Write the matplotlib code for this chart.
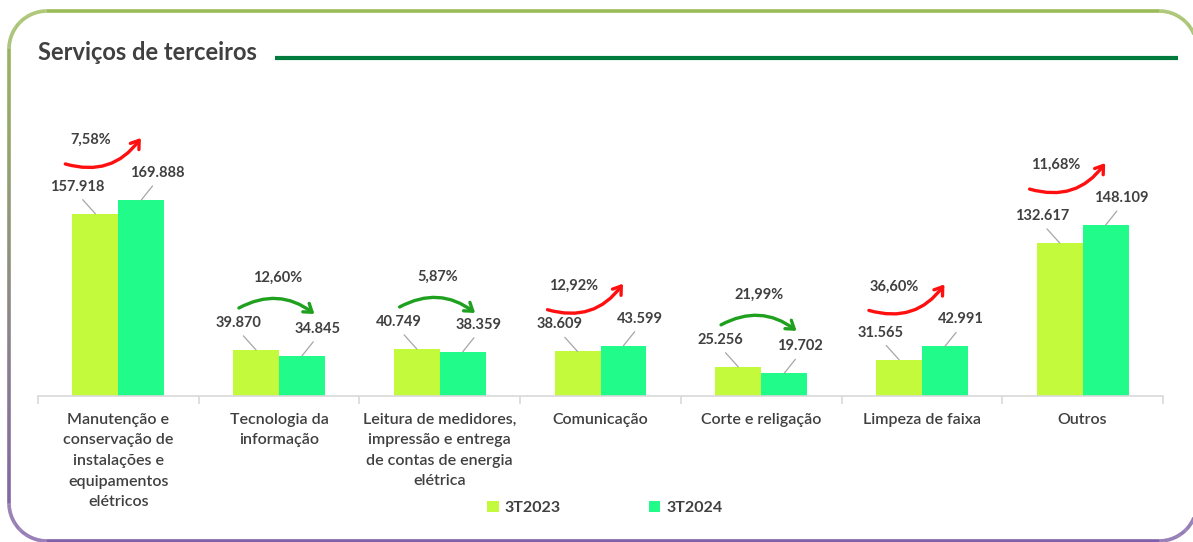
import matplotlib
matplotlib.use("Agg")
import matplotlib.pyplot as plt
import numpy as np
from matplotlib.collections import LineCollection

# ---------------- data ----------------
categories = [
    "Manutenção e\nconservação de\ninstalações e\nequipamentos\nelétricos",
    "Tecnologia da\ninformação",
    "Leitura de medidores,\nimpressão e entrega\nde contas de energia\nelétrica",
    "Comunicação",
    "Corte e religação",
    "Limpeza de faixa",
    "Outros",
]
series_names = ["3T2023", "3T2024"]
values_2023 = [157.918, 39.870, 40.749, 38.609, 25.256, 31.565, 132.617]
values_2024 = [169.888, 34.845, 38.359, 43.599, 19.702, 42.991, 148.109]
labels_2023 = ["157.918", "39.870", "40.749", "38.609", "25.256", "31.565", "132.617"]
labels_2024 = ["169.888", "34.845", "38.359", "43.599", "19.702", "42.991", "148.109"]
pct_labels = ["7,58%", "12,60%", "5,87%", "12,92%", "21,99%", "36,60%", "11,68%"]

# ---------------- style ----------------
W, H = 1193, 542
FONT = ["Lato", "DejaVu Sans"]
TXT = "#404040"
C23 = "#C3FA3C"
C24 = "#20FB8A"
RED = "#FF1010"
GRN = "#1FA01F"

plt.rcParams["font.family"] = FONT

fig = plt.figure(figsize=(W / 100, H / 100), dpi=100)
fig.patch.set_facecolor("white")

# overlay for border / title
ov = fig.add_axes([0, 0, 1, 1])
ov.set_xlim(0, W)
ov.set_ylim(H, 0)
ov.axis("off")

# rounded border with green->purple gradient
x0, x1, y0, y1, r = 9, 1197, 11, 541, 38
pts = []
def arc(cx, cy, a0, a1, n=40):
    t = np.linspace(np.radians(a0), np.radians(a1), n)
    return list(zip(cx + r * np.cos(t), cy + r * np.sin(t)))
pts += [(x0 + r, y0), (x1 - r, y0)]
pts += arc(x1 - r, y0 + r, -90, 0)
pts += [(x1, y1 - r)]
pts += arc(x1 - r, y1 - r, 0, 90)
pts += [(x0 + r, y1)]
pts += arc(x0 + r, y1 - r, 90, 180)
pts += [(x0, y0 + r)]
pts += arc(x0 + r, y0 + r, 180, 270)
dense = []
for (ax_, ay_), (bx_, by_) in zip(pts[:-1], pts[1:]):
    n = max(2, int(np.hypot(bx_ - ax_, by_ - ay_) / 3))
    for t in np.linspace(0, 1, n, endpoint=False):
        dense.append((ax_ + (bx_ - ax_) * t, ay_ + (by_ - ay_) * t))
dense.append(pts[-1])
dense = np.array(dense)
segs = np.stack([dense[:-1], dense[1:]], axis=1)
top_c = np.array([155, 187, 89]) / 255
bot_c = np.array([128, 96, 168]) / 255
ymid = segs[:, :, 1].mean(axis=1)
f = np.clip((ymid - y0) / (y1 - y0), 0, 1)[:, None]
cols = top_c * (1 - f) + bot_c * f
ov.add_collection(LineCollection(segs, colors=cols, linewidths=2.6))

# title and rule
ov.text(38, 52, "Serviços de terceiros", fontsize=17, fontweight="bold",
        color=TXT, ha="left", va="center")
ov.plot([275, 1178], [58, 58], color="#007A3D", lw=3, solid_capstyle="butt")

# ---------------- chart ----------------
ax = fig.add_axes([38 / W, (H - 396) / H, 1125 / W, 296 / H])
ax.patch.set_alpha(0)
n = len(categories)
xs = np.arange(n)
bw = 0.286
ax.bar(xs - bw / 2, values_2023, bw, color=C23, label=series_names[0], zorder=2)
ax.bar(xs + bw / 2, values_2024, bw, color=C24, label=series_names[1], zorder=2)
ax.set_xlim(-0.5, n - 0.5)
ax.set_ylim(0, 296 / 1.154)

for s in ["top", "right", "left"]:
    ax.spines[s].set_visible(False)
ax.spines["bottom"].set_color("#D9D9D9")
ax.spines["bottom"].set_linewidth(1.2)
ax.set_yticks([])
ax.set_xticks(xs)
ax.set_xticklabels(categories, fontsize=11.5, color=TXT, fontweight="semibold",
                   linespacing=1.6, va="top")
ax.tick_params(axis="x", which="major", length=0, pad=12)
ax.set_xticks(np.arange(-0.5, n, 1), minor=True)
ax.tick_params(axis="x", which="minor", length=6, color="#D9D9D9", width=1.2)

# value labels with leader lines
lp = dict(arrowstyle="-", color="#A6A6A6", lw=0.9, shrinkA=3, shrinkB=0, relpos=(0.5, 0))
for i in range(n):
    ax.annotate(labels_2023[i], xy=(xs[i] - bw / 2, values_2023[i]), xytext=(-18, 27),
                textcoords="offset pixels", ha="center", va="center", fontsize=10.5,
                fontweight="bold", color=TXT, arrowprops=lp, zorder=3)
    ax.annotate(labels_2024[i], xy=(xs[i] + bw / 2, values_2024[i]), xytext=(16, 27),
                textcoords="offset pixels", ha="center", va="center", fontsize=10.5,
                fontweight="bold", color=TXT, arrowprops=lp, zorder=3)

# change arrows
u = 1 / 1.154  # data units per pixel
for i in range(n):
    top = max(values_2023[i], values_2024[i])
    if values_2024[i] >= values_2023[i]:
        start = (xs[i] - 0.33, top + 36 * u)
        end = (xs[i] + 0.14, top + 62 * u)
        ax.annotate("", xy=end, xytext=start,
                    arrowprops=dict(arrowstyle="->,head_length=0.55,head_width=0.38",
                                    connectionstyle="arc3,rad=0.35", color=RED, lw=2.4,
                                    shrinkA=0, shrinkB=0))
        ax.text(xs[i] - 0.17, top + 60 * u, pct_labels[i], ha="center", va="center",
                fontsize=10.5, fontweight="bold", color=TXT)
    else:
        start = (xs[i] - 0.25, top + 42 * u)
        end = (xs[i] + 0.22, top + 36 * u)
        ax.annotate("", xy=end, xytext=start,
                    arrowprops=dict(arrowstyle="->,head_length=0.55,head_width=0.38",
                                    connectionstyle="arc3,rad=-0.32", color=GRN, lw=2.4,
                                    shrinkA=0, shrinkB=0))
        ax.text(xs[i] - 0.01, top + 72 * u, pct_labels[i], ha="center", va="center",
                fontsize=10.5, fontweight="bold", color=TXT)

# legend
h, l = ax.get_legend_handles_labels()
leg = fig.legend(h, l, loc="center", bbox_to_anchor=(605 / W, 1 - 508 / H), ncol=2,
                 frameon=False, handlelength=0.7, handleheight=0.7, handletextpad=0.4,
                 columnspacing=5.5, prop=dict(family=FONT, weight="bold", size=11.5))
for t in leg.get_texts():
    t.set_color(TXT)

fig.savefig("out.png", dpi=100)
